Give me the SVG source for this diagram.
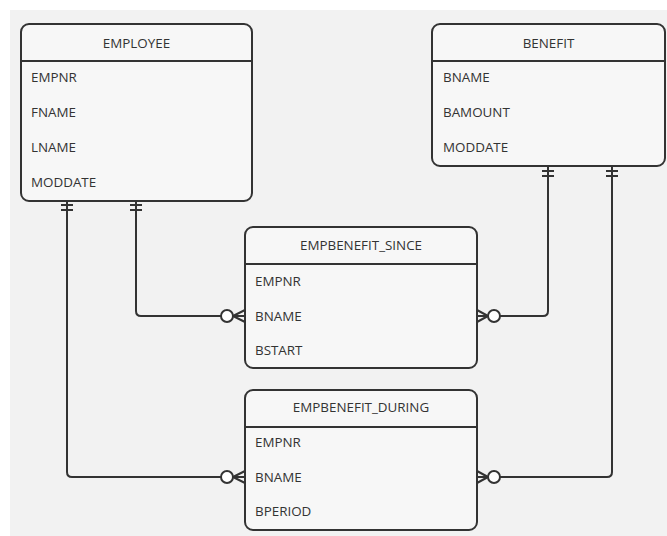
<svg xmlns="http://www.w3.org/2000/svg" width="667" height="536" viewBox="0 0 667 536">
<style>
.bg{fill:#f2f2f2}
.box{fill:#f7f7f7;stroke:#333;stroke-width:2}
.sep{stroke:#333;stroke-width:2}
.t{font-family:"Open Sans","Noto Sans",sans-serif;font-size:13.4px;fill:#333;dominant-baseline:central}
.c{text-anchor:middle}
.ln{fill:none;stroke:#333;stroke-width:2}
.circ{fill:#fff;stroke:#333;stroke-width:2}
</style>
<rect class="bg" x="10" y="10" width="657" height="526"/>
<g id="EMPLOYEE">
<rect class="box" x="21" y="24" width="231" height="177" rx="8"/>
<line class="sep" x1="21" y1="61" x2="252" y2="61"/>
<text class="t c" x="136.5" y="43">EMPLOYEE</text>
<text class="t" x="31" y="77">EMPNR</text>
<text class="t" x="31" y="112">FNAME</text>
<text class="t" x="31" y="147">LNAME</text>
<text class="t" x="31" y="182">MODDATE</text>
</g>
<g id="BENEFIT">
<rect class="box" x="432" y="24" width="233" height="142" rx="8"/>
<line class="sep" x1="432" y1="61" x2="665" y2="61"/>
<text class="t c" x="548.5" y="43">BENEFIT</text>
<text class="t" x="443" y="77">BNAME</text>
<text class="t" x="443" y="112">BAMOUNT</text>
<text class="t" x="443" y="147">MODDATE</text>
</g>
<g id="EMPBENEFIT_SINCE">
<rect class="box" x="245" y="227" width="232" height="141" rx="8"/>
<line class="sep" x1="245" y1="264" x2="477" y2="264"/>
<text class="t c" x="361" y="245">EMPBENEFIT_SINCE</text>
<text class="t" x="255" y="281">EMPNR</text>
<text class="t" x="255" y="316">BNAME</text>
<text class="t" x="255" y="350">BSTART</text>
</g>
<g id="EMPBENEFIT_DURING">
<rect class="box" x="245" y="390" width="232" height="140" rx="8"/>
<line class="sep" x1="245" y1="427" x2="477" y2="427"/>
<text class="t c" x="361" y="407">EMPBENEFIT_DURING</text>
<text class="t" x="255" y="442">EMPNR</text>
<text class="t" x="255" y="477">BNAME</text>
<text class="t" x="255" y="511">BPERIOD</text>
</g>
<g id="connectors">
<path class="ln" d="M136,201 V311 Q136,316 141,316 H221"/>
<path class="ln" d="M130,205 H142 M130,210 H142"/>
<path class="ln" d="M233,316 L245,310 M233,316 L245,322 M233,316 H245"/>
<circle class="circ" cx="227" cy="316" r="6"/>
<path class="ln" d="M67,201 V472 Q67,477 72,477 H221"/>
<path class="ln" d="M61,205 H73 M61,210 H73"/>
<path class="ln" d="M233,477 L245,471 M233,477 L245,483 M233,477 H245"/>
<circle class="circ" cx="227" cy="477" r="6"/>
<path class="ln" d="M548,166 V311 Q548,316 543,316 H500"/>
<path class="ln" d="M542,171 H554 M542,176 H554"/>
<path class="ln" d="M488,316 L477,310 M488,316 L477,322 M488,316 H477"/>
<circle class="circ" cx="494" cy="316" r="6"/>
<path class="ln" d="M612,166 V472 Q612,477 607,477 H500"/>
<path class="ln" d="M606,171 H618 M606,176 H618"/>
<path class="ln" d="M488,477 L477,471 M488,477 L477,483 M488,477 H477"/>
<circle class="circ" cx="494" cy="477" r="6"/>
</g>
</svg>
